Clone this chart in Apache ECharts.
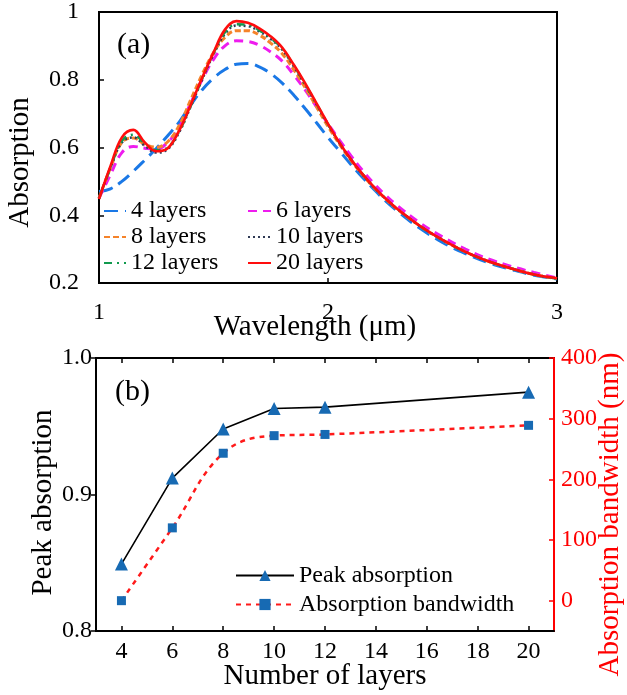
<!DOCTYPE html>
<html>
<head>
<meta charset="utf-8">
<script src="https://cdn.jsdelivr.net/npm/echarts@6/dist/echarts.min.js"></script>
<style>
html,body{margin:0;padding:0;background:#fff;}
#chart{width:627px;height:695px;}
</style>
</head>
<body>
<div id="chart"></div>
<script>
// ---- Panel (a) data ----
var wavelength = [1.00,1.05,1.10,1.15,1.20,1.25,1.30,1.35,1.40,1.45,1.50,1.55,1.60,1.65,1.70,1.75,1.80,1.85,1.90,1.95,2.00,2.05,2.10,2.15,2.20,2.25,2.30,2.40,2.50,2.60,2.70,2.80,2.90,3.00];
var abs4  = [0.470,0.478,0.500,0.530,0.563,0.597,0.635,0.675,0.725,0.770,0.805,0.830,0.846,0.848,0.838,0.818,0.790,0.755,0.715,0.673,0.630,0.590,0.550,0.512,0.477,0.443,0.414,0.362,0.320,0.287,0.260,0.240,0.223,0.212];
var abs6  = [0.450,0.520,0.585,0.603,0.598,0.595,0.615,0.660,0.730,0.800,0.860,0.900,0.915,0.913,0.902,0.882,0.855,0.815,0.770,0.720,0.670,0.622,0.576,0.533,0.494,0.460,0.430,0.378,0.336,0.300,0.271,0.249,0.231,0.215];
var abs8  = [0.450,0.540,0.615,0.628,0.610,0.601,0.617,0.665,0.740,0.815,0.880,0.925,0.945,0.945,0.932,0.908,0.877,0.830,0.777,0.720,0.662,0.610,0.562,0.520,0.482,0.449,0.419,0.369,0.327,0.292,0.264,0.243,0.225,0.213];
var abs10 = [0.450,0.540,0.615,0.630,0.605,0.585,0.595,0.645,0.720,0.800,0.875,0.935,0.960,0.958,0.943,0.920,0.889,0.840,0.785,0.727,0.668,0.613,0.564,0.521,0.483,0.450,0.420,0.369,0.327,0.292,0.264,0.243,0.225,0.213];
var abs12 = [0.450,0.540,0.620,0.638,0.612,0.592,0.600,0.648,0.722,0.802,0.878,0.940,0.964,0.962,0.946,0.923,0.892,0.843,0.787,0.729,0.669,0.614,0.565,0.522,0.484,0.450,0.420,0.369,0.327,0.292,0.264,0.243,0.225,0.213];
var abs20 = [0.448,0.545,0.630,0.652,0.615,0.589,0.598,0.650,0.725,0.805,0.880,0.948,0.973,0.968,0.952,0.928,0.895,0.845,0.790,0.730,0.670,0.614,0.565,0.522,0.484,0.450,0.420,0.369,0.327,0.292,0.264,0.243,0.225,0.214];
var seriesNamesA = ['4 layers','6 layers','8 layers','10 layers','12 layers','20 layers'];

// ---- Panel (b) data ----
var layers = [4,6,8,10,12,20];
var peakAbs = [0.849,0.912,0.948,0.963,0.964,0.975];
var bandwidth = [0,120,243,272,274,289];
var layerTicks = [4,6,8,10,12,14,16,18,20];
var bwTicks = [0,100,200,300,400];

var FONT = '"Liberation Serif","Times New Roman",serif';

function pairs(xs, ys){ return xs.map(function(x,i){ return [x, ys[i]]; }); }

var stylesA = [
  {color:'#1a78e6', type:[14,7], width:3},
  {color:'#ee1cee', type:[9,6], width:3},
  {color:'#f5832a', type:[6,3], width:3},
  {color:'#2f3a55', type:[2,3], width:2.5},
  {color:'#119a4e', type:[8,5,2,5], width:2.5},
  {color:'#ff0d0d', type:'solid', width:2.6}
];
var dataA = [abs4, abs6, abs8, abs10, abs12, abs20];

var series = dataA.map(function(d,i){
  return {
    name: seriesNamesA[i], type:'line', xAxisIndex:0, yAxisIndex:0,
    data: pairs(wavelength, d), smooth:0.4, symbol:'none',
    lineStyle: stylesA[i], itemStyle:{color: stylesA[i].color}, z: 2+i
  };
});

series.push({
  name:'Peak absorption', type:'line', xAxisIndex:1, yAxisIndex:1,
  data: pairs(layers, peakAbs), symbol:'triangle', symbolSize:13,
  lineStyle:{color:'#000', width:1.6}, itemStyle:{color:'#176ab3'}, z:5
});
series.push({
  name:'Absorption bandwidth', type:'line', xAxisIndex:1, yAxisIndex:2,
  data: pairs(layers, bandwidth), symbol:'rect', symbolSize:9, smooth:0.4,
  lineStyle:{color:'#ff1a1a', width:2.5, type:[5,5]}, itemStyle:{color:'#176ab3'}, z:4
});

var labelFont = {fontFamily: FONT, fontSize: 24, color:'#000'};

var option = {
  animation:false,
  backgroundColor:'#fff',
  textStyle:{fontFamily: FONT},
  grid:[
    {left:99, top:12, width:458, height:271, show:true, borderColor:'#000', borderWidth:2, backgroundColor:'transparent', outerBoundsMode:'none'},
    {left:96, top:358, width:458, height:273, show:true, borderColor:'#000', borderWidth:2, backgroundColor:'transparent', outerBoundsMode:'none'}
  ],
  xAxis:[
    {type:'value', gridIndex:0, min:1, max:3, interval:1,
     name:'Wavelength (\u03bcm)', nameLocation:'middle', nameGap:30, nameMoveOverlap:false,
     nameTextStyle:{fontFamily:FONT, fontSize:29, color:'#000', padding:[0,26,0,0]},
     axisLine:{show:true, onZero:false, lineStyle:{color:'#000', width:2}},
     axisTick:{show:true, inside:true, length:5, lineStyle:{color:'#000', width:1.5}},
     axisLabel:Object.assign({margin:18}, labelFont),
     splitLine:{show:false}},
    {type:'value', gridIndex:1, min:3, max:21,
     name:'Number of layers', nameLocation:'middle', nameGap:31, nameMoveOverlap:false,
     nameTextStyle:{fontFamily:FONT, fontSize:29, color:'#000'},
     axisLine:{show:true, onZero:false, lineStyle:{color:'#000', width:2}},
     axisTick:{show:true, inside:true, length:5, customValues:layerTicks, lineStyle:{color:'#000', width:1.5}},
     axisLabel:Object.assign({margin:9, customValues:layerTicks}, labelFont),
     splitLine:{show:false}},
    {type:'value', gridIndex:1, min:3, max:21, position:'top',
     axisLine:{show:false, onZero:false},
     axisTick:{show:true, inside:true, length:5, customValues:layerTicks, lineStyle:{color:'#000', width:1.5}},
     axisLabel:{show:false, customValues:layerTicks},
     splitLine:{show:false}}
  ],
  yAxis:[
    {type:'value', gridIndex:0, min:0.2, max:1, interval:0.2,
     name:'Absorption', nameLocation:'middle', nameGap:64, nameMoveOverlap:false,
     nameTextStyle:{fontFamily:FONT, fontSize:29, color:'#000', padding:[0,30,0,0]},
     axisLine:{show:true, onZero:false, lineStyle:{color:'#000', width:2}},
     axisTick:{show:true, inside:true, length:5, lineStyle:{color:'#000', width:1.5}},
     axisLabel:Object.assign({margin:20, formatter:function(v){ return Math.abs(v-1)<1e-9 ? '1' : v.toFixed(1); }}, labelFont),
     splitLine:{show:false}},
    {type:'value', gridIndex:1, min:0.8, max:1.0, interval:0.1,
     name:'Peak absorption', nameLocation:'middle', nameGap:38, nameMoveOverlap:false,
     nameTextStyle:{fontFamily:FONT, fontSize:29, color:'#000', padding:[0,16,0,0]},
     axisLine:{show:true, onZero:false, lineStyle:{color:'#000', width:2}},
     axisTick:{show:true, inside:false, length:5, lineStyle:{color:'#000', width:1.5}},
     axisLabel:Object.assign({margin:4, formatter:function(v){ return v.toFixed(1); }}, labelFont),
     splitLine:{show:false}},
    {type:'value', gridIndex:1, min:-50, max:400, position:'right',
     name:'Absorption bandwidth (nm)', nameLocation:'middle', nameGap:42, nameRotate:90, nameMoveOverlap:false,
     nameTextStyle:{fontFamily:FONT, fontSize:29, color:'#ff0000', padding:[0,40,0,0]},
     axisLine:{show:true, onZero:false, lineStyle:{color:'#ff0000', width:2}},
     axisTick:{show:true, inside:true, length:5, customValues:bwTicks, lineStyle:{color:'#ff0000', width:1.5}},
     axisLabel:{margin:7, customValues:bwTicks, fontFamily:FONT, fontSize:24, color:'#ff0000'},
     splitLine:{show:false}}
  ],
  legend:[
    {orient:'vertical', left:103, top:198, padding:0, itemWidth:22, itemHeight:14, itemGap:0,
     itemStyle:{opacity:0},
     data:['4 layers','8 layers','12 layers'],
     textStyle:{fontFamily:FONT, fontSize:24, color:'#000', lineHeight:26}},
    {orient:'vertical', left:247, top:198, padding:0, itemWidth:23, itemHeight:14, itemGap:0,
     itemStyle:{opacity:0},
     data:['6 layers','10 layers','20 layers'],
     textStyle:{fontFamily:FONT, fontSize:24, color:'#000', lineHeight:26}},
    {orient:'vertical', left:235, top:561, padding:0, itemWidth:58, itemHeight:14, itemGap:0,
     data:['Peak absorption','Absorption bandwidth'],
     textStyle:{fontFamily:FONT, fontSize:24, color:'#000', lineHeight:29}}
  ],
  graphic:[
    {type:'text', left:117, top:30, style:{text:'(a)', fontFamily:FONT, fontSize:30, fill:'#000'}},
    {type:'text', left:115, top:377, style:{text:'(b)', fontFamily:FONT, fontSize:30, fill:'#000'}}
  ],
  series: series
};

var chart = echarts.init(document.getElementById('chart'), null, {renderer:'canvas'});
chart.setOption(option);
</script>
</body>
</html>
